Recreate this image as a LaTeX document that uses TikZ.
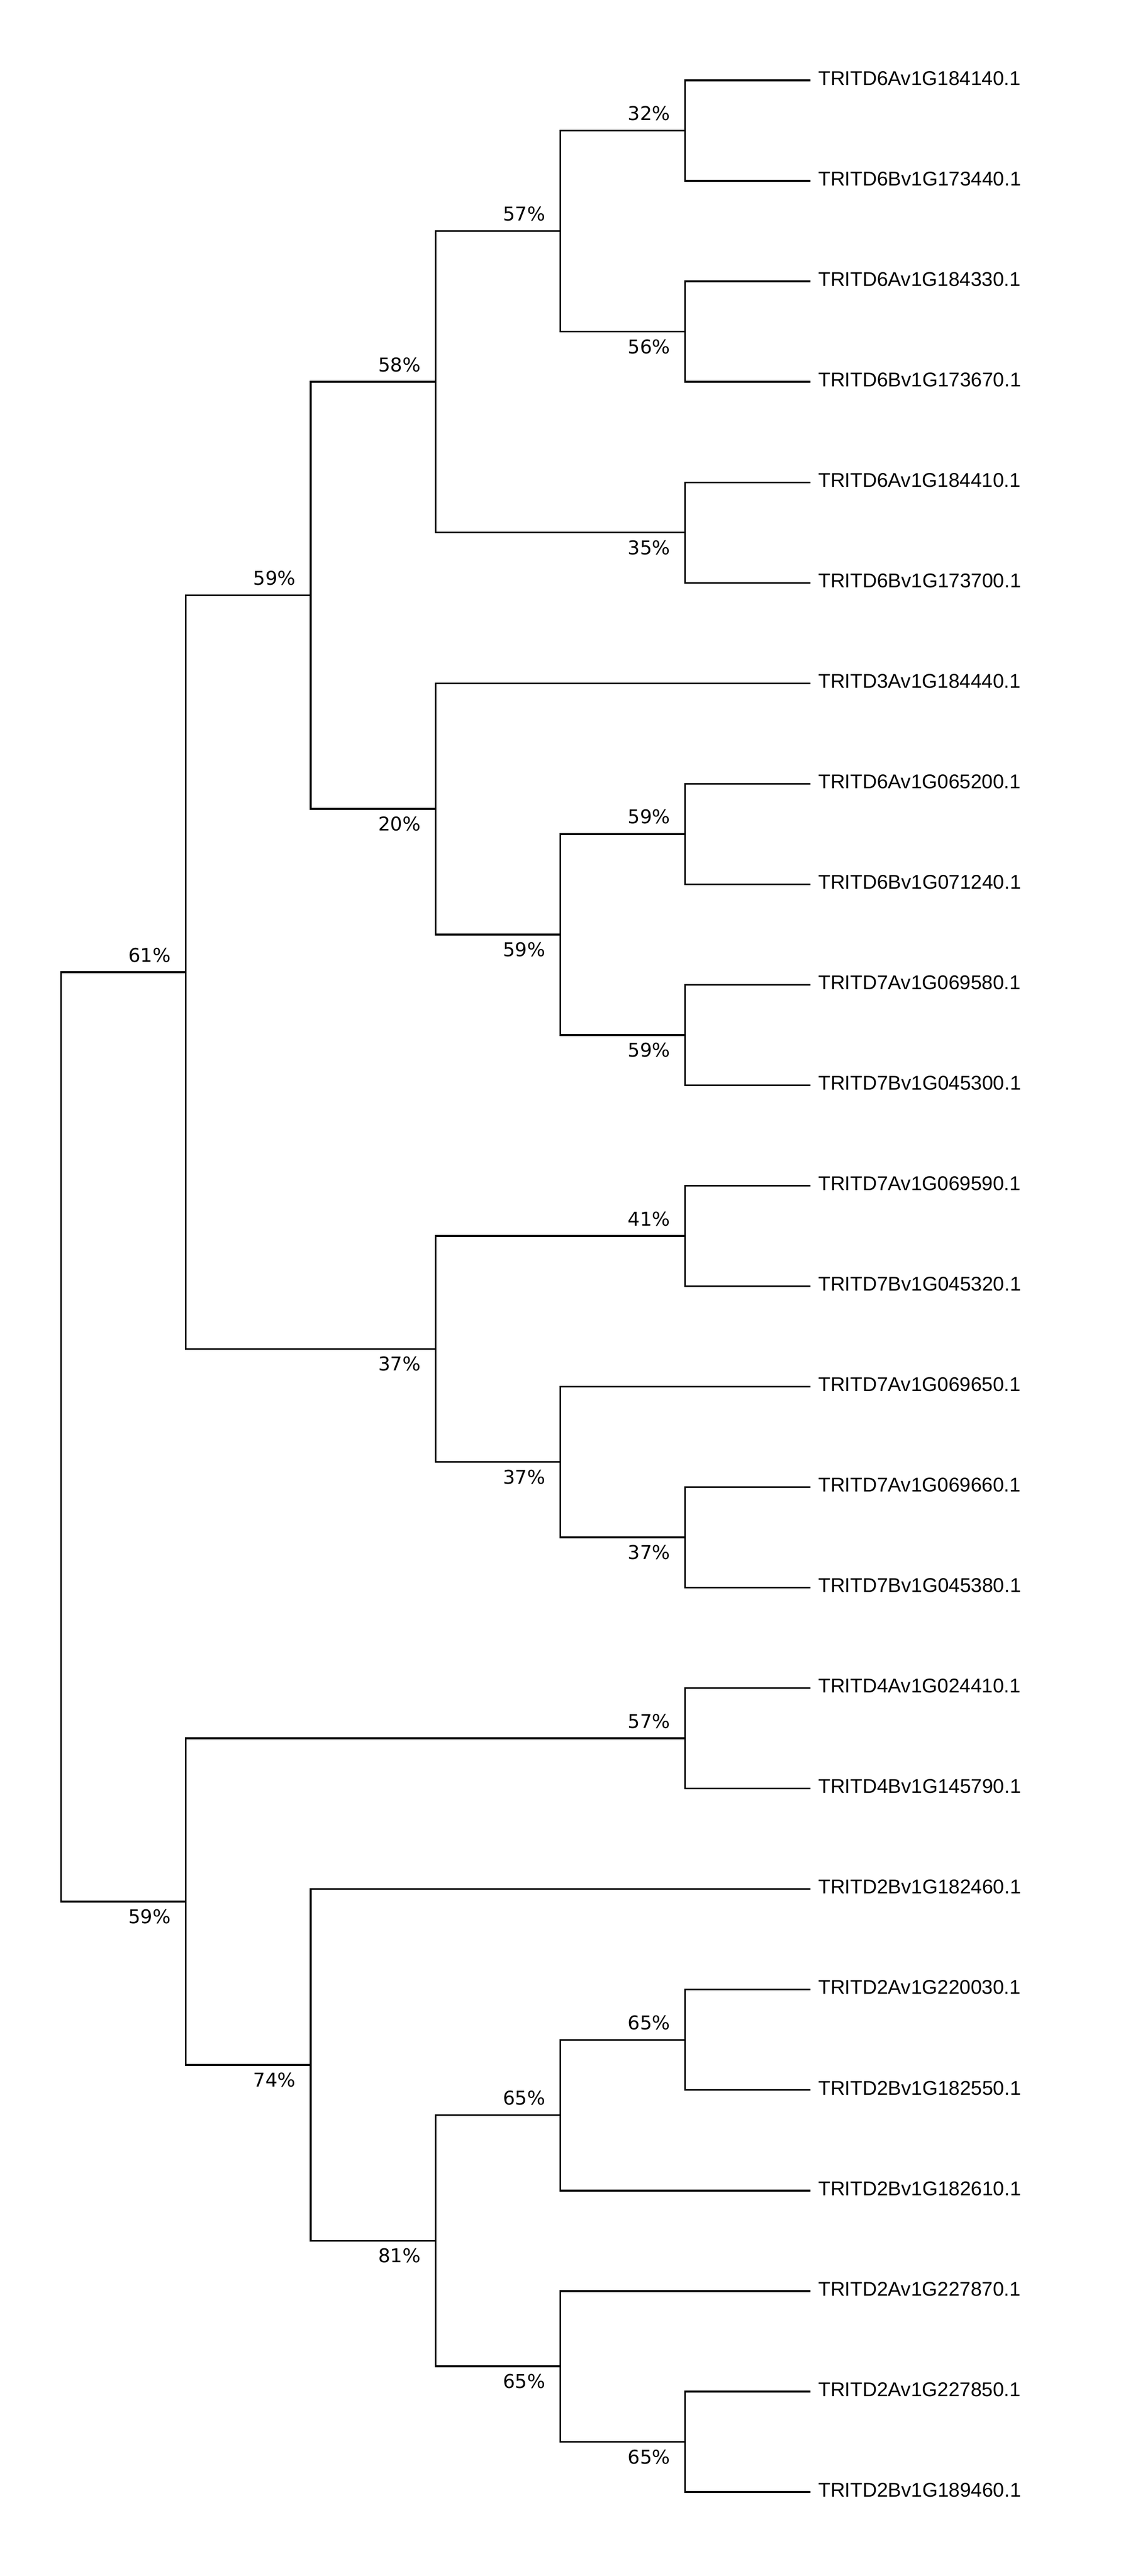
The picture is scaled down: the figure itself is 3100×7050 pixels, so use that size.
\documentclass[tikz,border=0pt]{standalone}
\usepackage{fontspec}
\setmainfont{Liberation Sans}
\newfontfamily\pctfont{DejaVu Sans}
\begin{document}
\begin{tikzpicture}[x=0.01cm,y=-0.01cm,
  br/.style={line width=1.35pt, line join=miter},
  leaf/.style={anchor=base west, inner sep=0pt, font=\fontsize{15.5pt}{18pt}\selectfont},
  pct/.style={anchor=base east, inner sep=0pt, font=\pctfont\fontsize{14.8pt}{17pt}\selectfont, xshift=-0.4cm},
  pa/.style={pct, yshift=0.28cm},
  pb/.style={pct, yshift=-0.6cm}]
\useasboundingbox[fill=white] (0,0) rectangle (3100,7050);
% leaves
\foreach \i/\t in {0/TRITD6Av1G184140.1,1/TRITD6Bv1G173440.1,2/TRITD6Av1G184330.1,3/TRITD6Bv1G173670.1,
  4/TRITD6Av1G184410.1,5/TRITD6Bv1G173700.1,6/TRITD3Av1G184440.1,7/TRITD6Av1G065200.1,
  8/TRITD6Bv1G071240.1,9/TRITD7Av1G069580.1,10/TRITD7Bv1G045300.1,11/TRITD7Av1G069590.1,
  12/TRITD7Bv1G045320.1,13/TRITD7Av1G069650.1,14/TRITD7Av1G069660.1,15/TRITD7Bv1G045380.1,
  16/TRITD4Av1G024410.1,17/TRITD4Bv1G145790.1,18/TRITD2Bv1G182460.1,19/TRITD2Av1G220030.1,
  20/TRITD2Bv1G182550.1,21/TRITD2Bv1G182610.1,22/TRITD2Av1G227870.1,23/TRITD2Av1G227850.1,
  24/TRITD2Bv1G189460.1}{
  \coordinate (l\i) at (2218,{220+275*\i});
  \node[leaf] (t\i) at (2239,{233+275*\i}) {\t};
}
% internal nodes
\coordinate (n32) at (1875,357.5);
\coordinate (n56) at (1875,907.5);
\coordinate (n57) at (1533,632.5);
\coordinate (n35) at (1875,1457.5);
\coordinate (n58) at (1192,1045);
\coordinate (n59e) at (1875,2282.5);
\coordinate (n59f) at (1875,2832.5);
\coordinate (n59d) at (1533,2557.5);
\coordinate (n20) at (1192,2213.75);
\coordinate (n59c) at (850,1629.4);
\coordinate (n41) at (1875,3382.5);
\coordinate (n37c) at (1875,4207.5);
\coordinate (n37b) at (1533,4001.25);
\coordinate (n37a) at (1192,3691.9);
\coordinate (nA) at (508,2660.6);
\coordinate (n57b) at (1875,4757.5);
\coordinate (n65a) at (1875,5582.5);
\coordinate (n65b) at (1533,5788.75);
\coordinate (n65d) at (1875,6682.5);
\coordinate (n65c) at (1533,6476.25);
\coordinate (n81) at (1192,6132.5);
\coordinate (n74) at (850,5651.25);
\coordinate (nB) at (508,5204.4);
\coordinate (root) at (167,3932.5);
% branches
\draw[br] (l0) -| (n32) |- (l1);
\draw[br] (l2) -| (n56) |- (l3);
\draw[br] (n32) -| (n57) |- (n56);
\draw[br] (l4) -| (n35) |- (l5);
\draw[br] (n57) -| (n58) |- (n35);
\draw[br] (l7) -| (n59e) |- (l8);
\draw[br] (l9) -| (n59f) |- (l10);
\draw[br] (n59e) -| (n59d) |- (n59f);
\draw[br] (l6) -| (n20) |- (n59d);
\draw[br] (n58) -| (n59c) |- (n20);
\draw[br] (l11) -| (n41) |- (l12);
\draw[br] (l14) -| (n37c) |- (l15);
\draw[br] (l13) -| (n37b) |- (n37c);
\draw[br] (n41) -| (n37a) |- (n37b);
\draw[br] (n59c) -| (nA) |- (n37a);
\draw[br] (l16) -| (n57b) |- (l17);
\draw[br] (l19) -| (n65a) |- (l20);
\draw[br] (n65a) -| (n65b) |- (l21);
\draw[br] (l23) -| (n65d) |- (l24);
\draw[br] (l22) -| (n65c) |- (n65d);
\draw[br] (n65b) -| (n81) |- (n65c);
\draw[br] (l18) -| (n74) |- (n81);
\draw[br] (n57b) -| (nB) |- (n74);
\draw[br] (nA) -| (root) |- (nB);
% support values
\node[pa] (p32) at (n32) {32\%};
\node[pb] (p56) at (n56) {56\%};
\node[pa] (p57) at (n57) {57\%};
\node[pb] (p35) at (n35) {35\%};
\node[pa] (p58) at (n58) {58\%};
\node[pa] (p59e) at (n59e) {59\%};
\node[pb] (p59f) at (n59f) {59\%};
\node[pb] (p59d) at (n59d) {59\%};
\node[pb] (p20) at (n20) {20\%};
\node[pa] (p59c) at (n59c) {59\%};
\node[pa] (p41) at (n41) {41\%};
\node[pb] (p37c) at (n37c) {37\%};
\node[pb] (p37b) at (n37b) {37\%};
\node[pb] (p37a) at (n37a) {37\%};
\node[pa] (pA) at (nA) {61\%};
\node[pa] (p57b) at (n57b) {57\%};
\node[pa] (p65a) at (n65a) {65\%};
\node[pa] (p65b) at (n65b) {65\%};
\node[pb] (p65d) at (n65d) {65\%};
\node[pb] (p65c) at (n65c) {65\%};
\node[pb] (p81) at (n81) {81\%};
\node[pb] (p74) at (n74) {74\%};
\node[pb] (pB) at (nB) {59\%};
\end{tikzpicture}
\end{document}
